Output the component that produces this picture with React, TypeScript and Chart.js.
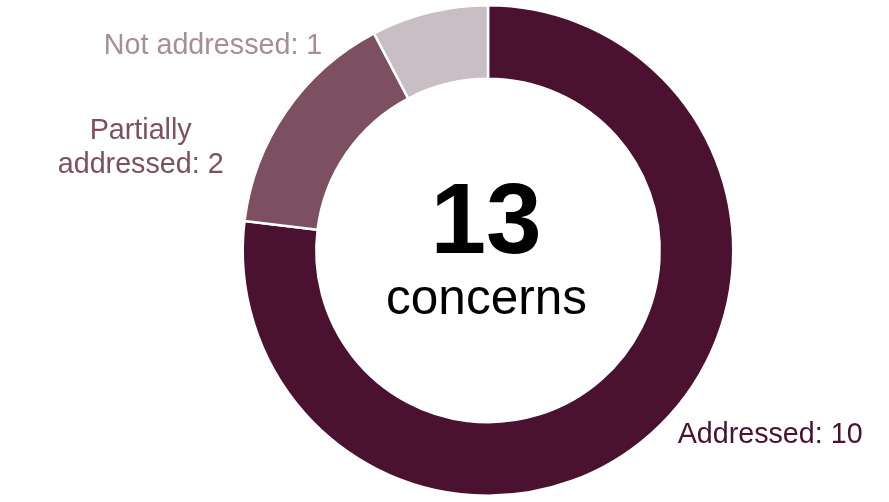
import React, { useEffect, useRef } from "react";
import { Chart, registerables } from "chart.js";

Chart.register(...registerables);

const categories = ["Addressed", "Partially addressed", "Not addressed"];
const values = [10, 2, 1];
const sliceColors = ["#4a1130", "#7d5061", "#c9bec4"];
const labelColors = ["#4a1130", "#7d5061", "#a88c98"];
const labelLines = [["Addressed: 10"], ["Partially", "addressed: 2"], ["Not addressed: 1"]];
const centerNumber = "13";
const centerWord = "concerns";

const FONT = '"Liberation Sans", Arial, Helvetica, sans-serif';

// offsets of each label relative to the arc's outer mid point
const labelPlacement = [
  { dx: 27, dy: 9, align: "left" as CanvasTextAlign },
  { dx: -145.5, dy: 28, align: "center" as CanvasTextAlign },
  { dx: -107, dy: 42, align: "right" as CanvasTextAlign },
];

const labelPlugin = {
  id: "sliceLabels",
  afterDatasetsDraw(chart: any) {
    const ctx = chart.ctx;
    const meta = chart.getDatasetMeta(0);
    ctx.save();
    ctx.textBaseline = "alphabetic";
    meta.data.forEach((arc: any, i: number) => {
      const p = arc.getProps(["x", "y", "startAngle", "endAngle", "outerRadius"], true);
      const mid = (p.startAngle + p.endAngle) / 2;
      const px = p.x + Math.cos(mid) * p.outerRadius;
      const py = p.y + Math.sin(mid) * p.outerRadius;
      const pl = labelPlacement[i];
      ctx.font = `28.7px ${FONT}`;
      ctx.fillStyle = labelColors[i];
      ctx.textAlign = pl.align;
      labelLines[i].forEach((line, k) => {
        ctx.fillText(line, px + pl.dx, py + pl.dy + k * 34);
      });
    });
    const first = meta.data[0];
    if (first) {
      const cx = first.x;
      const cy = first.y;
      ctx.textAlign = "center";
      ctx.fillStyle = "#000000";
      ctx.font = `bold 100px ${FONT}`;
      ctx.fillText(centerNumber, cx - 2, cy + 2);
      ctx.font = `49.5px ${FONT}`;
      ctx.fillText(centerWord, cx - 1.5, cy + 63);
    }
    ctx.restore();
  },
};

export default function App() {
  const ref = useRef<HTMLCanvasElement | null>(null);
  useEffect(() => {
    if (!ref.current) return;
    const chart = new Chart(ref.current, {
      type: "doughnut",
      data: {
        labels: categories,
        datasets: [
          {
            data: values,
            backgroundColor: sliceColors,
            borderColor: "#ffffff",
            borderWidth: 2.5,
            hoverOffset: 0,
          },
        ],
      },
      options: {
        responsive: false,
        animation: false,
        cutout: "70%",
        layout: { padding: { left: 87, right: 0, top: 4, bottom: 5 } },
        plugins: {
          legend: { display: false },
          tooltip: { enabled: false },
        },
      },
      plugins: [labelPlugin],
    });
    return () => chart.destroy();
  }, []);
  return (
    <div style={{ position: "absolute", left: 0, top: 0, width: 889, height: 502, background: "#fff" }}>
      <canvas ref={ref} width={889} height={502} style={{ width: 889, height: 502, display: "block" }} />
    </div>
  );
}
